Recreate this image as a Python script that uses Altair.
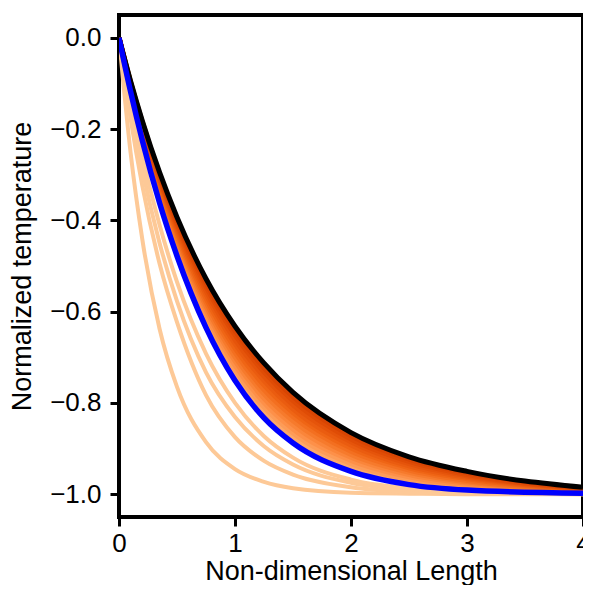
import altair as alt
import pandas as pd

# x grid (Non-dimensional Length)
X = [0, 0.1, 0.2, 0.35, 0.5, 0.75, 1.0, 1.25, 1.5, 2.0, 2.5, 3.0, 4.0]

# light (peach) curves, steepest first
light_1 = [0, -0.252, -0.440, -0.638, -0.765, -0.886, -0.945, -0.973, -0.987, -0.997, -0.999, -1.000, -1.000]
light_2 = [0, -0.177, -0.323, -0.495, -0.623, -0.783, -0.875, -0.927, -0.957, -0.985, -0.995, -0.998, -1.000]
light_3 = [0, -0.156, -0.288, -0.450, -0.577, -0.733, -0.831, -0.895, -0.935, -0.975, -0.990, -0.996, -0.999]
light_4 = [0, -0.138, -0.259, -0.410, -0.535, -0.692, -0.800, -0.873, -0.920, -0.968, -0.987, -0.995, -0.999]

# orange band between the blue and black curves (light -> dark)
band_01 = [0, -0.117, -0.222, -0.359, -0.475, -0.631, -0.746, -0.828, -0.884, -0.947, -0.977, -0.989, -0.997]
band_02 = [0, -0.115, -0.219, -0.354, -0.468, -0.622, -0.737, -0.819, -0.875, -0.940, -0.972, -0.986, -0.996]
band_03 = [0, -0.113, -0.215, -0.349, -0.461, -0.614, -0.727, -0.809, -0.866, -0.933, -0.967, -0.983, -0.995]
band_04 = [0, -0.112, -0.212, -0.343, -0.454, -0.605, -0.718, -0.799, -0.857, -0.926, -0.962, -0.980, -0.994]
band_05 = [0, -0.110, -0.209, -0.338, -0.447, -0.596, -0.708, -0.790, -0.848, -0.919, -0.957, -0.976, -0.993]
band_06 = [0, -0.108, -0.205, -0.333, -0.441, -0.588, -0.699, -0.780, -0.839, -0.913, -0.952, -0.973, -0.992]
band_07 = [0, -0.106, -0.202, -0.327, -0.434, -0.579, -0.689, -0.771, -0.830, -0.906, -0.947, -0.970, -0.991]
band_08 = [0, -0.104, -0.198, -0.322, -0.427, -0.571, -0.680, -0.761, -0.821, -0.899, -0.942, -0.966, -0.990]
band_09 = [0, -0.102, -0.195, -0.316, -0.420, -0.562, -0.670, -0.751, -0.813, -0.892, -0.938, -0.963, -0.989]
band_10 = [0, -0.101, -0.191, -0.311, -0.413, -0.554, -0.661, -0.742, -0.804, -0.885, -0.933, -0.960, -0.988]
band_11 = [0, -0.099, -0.188, -0.306, -0.407, -0.545, -0.651, -0.732, -0.795, -0.879, -0.928, -0.957, -0.987]
band_12 = [0, -0.097, -0.184, -0.300, -0.400, -0.537, -0.642, -0.723, -0.786, -0.872, -0.923, -0.953, -0.986]

blue_curve = [0, -0.118, -0.224, -0.362, -0.478, -0.635, -0.751, -0.833, -0.888, -0.950, -0.979, -0.991, -0.998]
black_curve = [0, -0.095, -0.181, -0.295, -0.393, -0.528, -0.632, -0.713, -0.777, -0.865, -0.918, -0.950, -0.985]

light_color = "#fdc997"
band_colors = ["#fdb47a", "#fda86a", "#fd9c58", "#fd9049", "#fa853a", "#f67a2c",
               "#f36f20", "#ef6515", "#ea5c10", "#e5540b", "#df4c06", "#d84503"]

x_ticks = [0, 1, 2, 3, 4]
y_ticks = [0.0, -0.2, -0.4, -0.6, -0.8, -1.0]

FONT = "Liberation Sans"

x_enc = alt.X("x:Q",
              scale=alt.Scale(domain=[0, 4], nice=False, zero=False),
              axis=alt.Axis(values=x_ticks, format="d", title="Non-dimensional Length",
                            titlePadding=2, labelPadding=4, labelFlush=False))
y_enc = alt.Y("y:Q",
              scale=alt.Scale(domain=[-1.05, 0.05], nice=False, zero=False),
              axis=alt.Axis(values=y_ticks, format=".1f", title="Normalized temperature",
                            titlePadding=13, labelPadding=9, labelFlush=False))


def curve(ys, color, width):
    df = pd.DataFrame({"x": X, "y": ys})
    return alt.Chart(df).mark_line(color=color, strokeWidth=width,
                                   interpolate="monotone", clip=True).encode(x=x_enc, y=y_enc)


layers = []
for ys in [light_1, light_2, light_3, light_4]:
    layers.append(curve(ys, light_color, 4))
bands = [band_01, band_02, band_03, band_04, band_05, band_06,
         band_07, band_08, band_09, band_10, band_11, band_12]
for ys, c in zip(bands, band_colors):
    layers.append(curve(ys, c, 5))
layers.append(curve(black_curve, "black", 5))
layers.append(curve(blue_curve, "#0000ff", 5.5))

chart = alt.layer(*layers).properties(
    width=464, height=502,
    autosize=alt.AutoSizeParams(type="none"),
    padding={"left": 111, "top": 7, "right": 0, "bottom": 68},
).configure_view(
    stroke="black", strokeWidth=4
).configure_axis(
    domain=False, grid=False,
    ticks=True, tickColor="black", tickWidth=3, tickSize=9,
    labelFont=FONT, labelFontSize=26, labelColor="black",
    titleFont=FONT, titleFontSize=27, titleColor="black", titleFontWeight="normal",
)

chart.save("out.html", embed_options={"renderer": "svg", "actions": False})
